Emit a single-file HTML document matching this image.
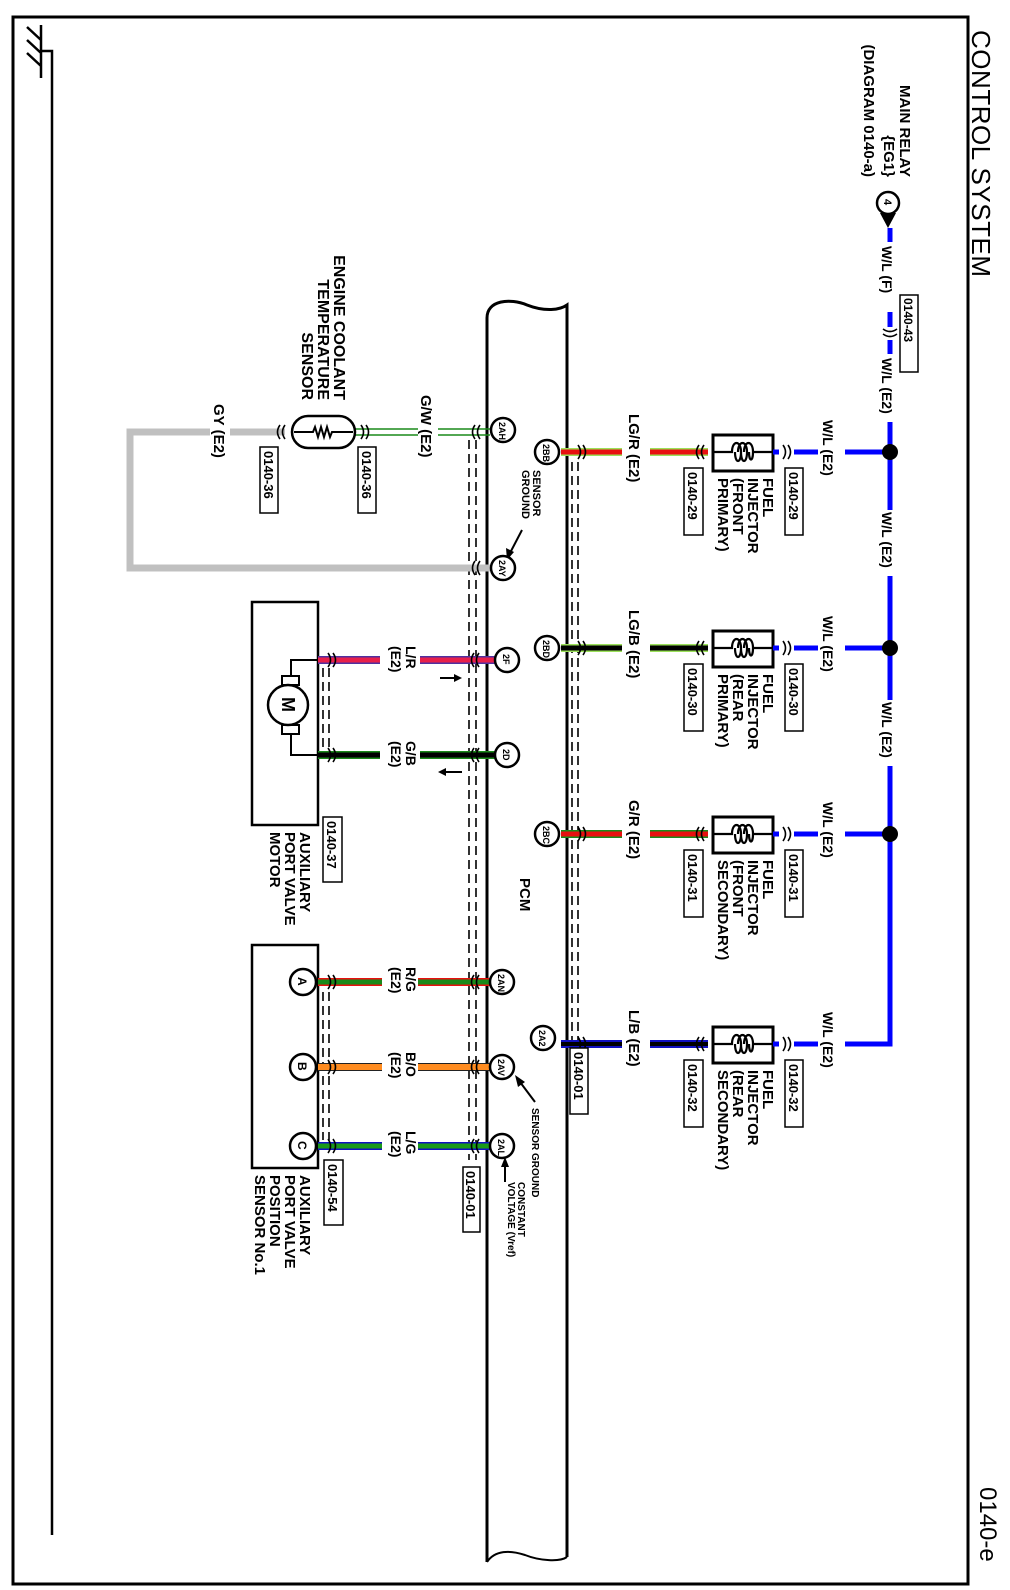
<!DOCTYPE html>
<html><head><meta charset="utf-8"><style>
html,body{margin:0;padding:0;background:#fff}
svg{display:block}
text{font-family:"Liberation Sans",sans-serif;font-weight:bold;fill:#000}
</style></head><body>
<svg width="1010" height="1590" viewBox="0 0 1010 1590" xmlns="http://www.w3.org/2000/svg">
<defs>
<path id="cr" d="M-4,-7 q5,7 0,14 M1,-7 q5,7 0,14" stroke="#000" stroke-width="1.6" fill="none"/>
<path id="cl" d="M4,-7 q-5,7 0,14 M-1,-7 q-5,7 0,14" stroke="#000" stroke-width="1.6" fill="none"/>
</defs>
<!-- frame -->
<path d="M13,17 H968 V1584 H13 Z" fill="none" stroke="#000" stroke-width="3"/>
<text transform="translate(972,30) rotate(90)" font-size="26" style="font-weight:normal" textLength="247">CONTROL SYSTEM</text>
<text transform="translate(980,1487) rotate(90)" font-size="24" style="font-weight:normal">0140-e</text>
<!-- ground -->
<path d="M41,25 V78 M27,27 L41,40 M27,40 L41,53 M27,53 L41,66 M41,51 H52 V1535" fill="none" stroke="#000" stroke-width="2.5"/>

<!-- PCM -->
<path d="M487,1562 V318 C487,300 510,298 527,305 C545,312 560,310 567,305 V1557" fill="none" stroke="#000" stroke-width="3"/>
<path d="M487,1562 C495,1550 510,1550 525,1555 C540,1561 560,1562 567,1557" fill="none" stroke="#000" stroke-width="2"/>
<text transform="translate(520,878) rotate(90)" font-size="15">PCM</text>

<!-- shields -->
<g stroke="#000" stroke-width="1.6" stroke-dasharray="9,5" fill="none">
<path d="M469,440 V1160 M476,440 V1160"/>
<path d="M572,462 V1048 M578,462 V1048"/>
<path d="M323,668 V748 M329,668 V748"/>
<path d="M323,992 V1140 M329,992 V1140"/>
</g>

<!-- main relay & bus -->
<circle cx="888" cy="203" r="11" fill="#fff" stroke="#000" stroke-width="2.5"/>
<text transform="translate(884,199) rotate(90)" font-size="11">4</text>
<path d="M880,213 L896,213 L888,228 Z" fill="#000"/>
<text transform="translate(900,177) rotate(90)" font-size="15" text-anchor="end">MAIN RELAY</text>
<text transform="translate(884,177) rotate(90)" font-size="15" text-anchor="end">{EG1}</text>
<text transform="translate(864,177) rotate(90)" font-size="15" text-anchor="end">(DIAGRAM 0140-a)</text>
<g stroke="#0000ff" stroke-width="5" fill="none">
<path d="M890,228 V242"/>
<path d="M890,312 V327"/>
<path d="M890,340 V354"/>
<path d="M890,422 V510"/>
<path d="M890,576 V700"/>
<path d="M890,766 V1044 H860"/>
</g>
<text transform="translate(882,246) rotate(90)" font-size="14">W/L (F)</text>
<use href="#cr" transform="translate(890,333) rotate(90)"/>
<rect x="900" y="295" width="18" height="77" fill="#fff" stroke="#000" stroke-width="1.5"/>
<text transform="translate(904,298) rotate(90)" font-size="12">0140-43</text>
<text transform="translate(882,358) rotate(90)" font-size="14">W/L (E2)</text>
<text transform="translate(882,512) rotate(90)" font-size="14">W/L (E2)</text>
<text transform="translate(882,702) rotate(90)" font-size="14">W/L (E2)</text>

<!-- row wires -->
<g>
<line x1="561" y1="452" x2="622" y2="452" stroke="#9be15a" stroke-width="8"/><line x1="561" y1="452" x2="622" y2="452" stroke="#e81010" stroke-width="5"/>
<line x1="650" y1="452" x2="708" y2="452" stroke="#9be15a" stroke-width="8"/><line x1="650" y1="452" x2="708" y2="452" stroke="#e81010" stroke-width="5"/>
<text transform="translate(629,414) rotate(90)" font-size="15">LG/R (E2)</text>
</g>
<g>
<line x1="561" y1="648" x2="622" y2="648" stroke="#9be15a" stroke-width="8"/><line x1="561" y1="648" x2="622" y2="648" stroke="#000" stroke-width="5"/>
<line x1="650" y1="648" x2="708" y2="648" stroke="#9be15a" stroke-width="8"/><line x1="650" y1="648" x2="708" y2="648" stroke="#000" stroke-width="5"/>
<text transform="translate(629,610) rotate(90)" font-size="15">LG/B (E2)</text>
</g>
<g>
<line x1="561" y1="834" x2="622" y2="834" stroke="#1a8a1a" stroke-width="8"/><line x1="561" y1="834" x2="622" y2="834" stroke="#e81010" stroke-width="5"/>
<line x1="650" y1="834" x2="708" y2="834" stroke="#1a8a1a" stroke-width="8"/><line x1="650" y1="834" x2="708" y2="834" stroke="#e81010" stroke-width="5"/>
<text transform="translate(629,800) rotate(90)" font-size="15">G/R (E2)</text>
</g>
<g>
<line x1="561" y1="1044" x2="622" y2="1044" stroke="#1010c0" stroke-width="8"/><line x1="561" y1="1044" x2="622" y2="1044" stroke="#000" stroke-width="4"/>
<line x1="650" y1="1044" x2="708" y2="1044" stroke="#1010c0" stroke-width="8"/><line x1="650" y1="1044" x2="708" y2="1044" stroke="#000" stroke-width="4"/>
<text transform="translate(629,1010) rotate(90)" font-size="15">L/B (E2)</text>
</g>

<!-- injector boxes -->
<g fill="none" stroke="#000" stroke-width="3">
<rect x="713" y="435" width="60" height="36"/>
<rect x="713" y="631" width="60" height="36"/>
<rect x="713" y="817" width="60" height="36"/>
<rect x="713" y="1027" width="60" height="36"/>
</g>
<g fill="none" stroke="#000" stroke-width="2.2">
<path d="M713,452 H732 c0,-12 9,-12 9,0 c0,12 -6,12 -6,0 M738,452 c0,-12 9,-12 9,0 c0,12 -6,12 -6,0 M744,452 c0,-12 9,-12 9,0 c0,10 -4,10 -4,0 M753,452 H773"/>
<path d="M713,648 H732 c0,-12 9,-12 9,0 c0,12 -6,12 -6,0 M738,648 c0,-12 9,-12 9,0 c0,12 -6,12 -6,0 M744,648 c0,-12 9,-12 9,0 c0,10 -4,10 -4,0 M753,648 H773"/>
<path d="M713,834 H732 c0,-12 9,-12 9,0 c0,12 -6,12 -6,0 M738,834 c0,-12 9,-12 9,0 c0,12 -6,12 -6,0 M744,834 c0,-12 9,-12 9,0 c0,10 -4,10 -4,0 M753,834 H773"/>
<path d="M713,1044 H732 c0,-12 9,-12 9,0 c0,12 -6,12 -6,0 M738,1044 c0,-12 9,-12 9,0 c0,12 -6,12 -6,0 M744,1044 c0,-12 9,-12 9,0 c0,10 -4,10 -4,0 M753,1044 H773"/>
</g>
<g stroke="#0000ff" stroke-width="5">
<path d="M773,452 H779 M794,452 H818 M845,452 H890"/>
<path d="M773,648 H779 M794,648 H818 M845,648 H890"/>
<path d="M773,834 H779 M794,834 H818 M845,834 H890"/>
<path d="M773,1044 H779 M794,1044 H818 M845,1044 H862"/>
</g>
<g fill="#000">
<circle cx="890" cy="452" r="8"/><circle cx="890" cy="648" r="8"/><circle cx="890" cy="834" r="8"/>
</g>
<g font-size="14">
<text transform="translate(823,420) rotate(90)">W/L (E2)</text>
<text transform="translate(823,616) rotate(90)">W/L (E2)</text>
<text transform="translate(823,802) rotate(90)">W/L (E2)</text>
<text transform="translate(823,1012) rotate(90)">W/L (E2)</text>
</g>
<use href="#cr" x="787" y="452"/><use href="#cr" x="787" y="648"/><use href="#cr" x="787" y="834"/><use href="#cr" x="787" y="1044"/>
<use href="#cl" x="700" y="452"/><use href="#cl" x="700" y="648"/><use href="#cl" x="700" y="834"/><use href="#cl" x="700" y="1044"/>
<use href="#cr" x="582" y="452"/><use href="#cr" x="582" y="648"/><use href="#cr" x="582" y="834"/><use href="#cr" x="582" y="1044"/>
<g fill="#fff" stroke="#000" stroke-width="1.5">
<rect x="785" y="468" width="18" height="67"/><rect x="684" y="468" width="19" height="67"/>
<rect x="785" y="664" width="18" height="67"/><rect x="684" y="664" width="19" height="67"/>
<rect x="785" y="850" width="18" height="67"/><rect x="684" y="850" width="19" height="67"/>
<rect x="785" y="1060" width="18" height="67"/><rect x="684" y="1060" width="19" height="67"/>
<rect x="570" y="1048" width="18" height="66"/>
</g>
<g font-size="13">
<text transform="translate(789,472) rotate(90)">0140-29</text><text transform="translate(688,472) rotate(90)">0140-29</text>
<text transform="translate(789,668) rotate(90)">0140-30</text><text transform="translate(688,668) rotate(90)">0140-30</text>
<text transform="translate(789,854) rotate(90)">0140-31</text><text transform="translate(688,854) rotate(90)">0140-31</text>
<text transform="translate(789,1064) rotate(90)">0140-32</text><text transform="translate(688,1064) rotate(90)">0140-32</text>
<text transform="translate(574,1052) rotate(90)">0140-01</text>
</g>
<g font-size="15">
<text transform="translate(763,478) rotate(90)">FUEL<tspan x="0" dy="15">INJECTOR</tspan><tspan x="0" dy="15">(FRONT</tspan><tspan x="0" dy="15">PRIMARY)</tspan></text>
<text transform="translate(763,674) rotate(90)">FUEL<tspan x="0" dy="15">INJECTOR</tspan><tspan x="0" dy="15">(REAR</tspan><tspan x="0" dy="15">PRIMARY)</tspan></text>
<text transform="translate(763,860) rotate(90)">FUEL<tspan x="0" dy="15">INJECTOR</tspan><tspan x="0" dy="15">(FRONT</tspan><tspan x="0" dy="15">SECONDARY)</tspan></text>
<text transform="translate(763,1070) rotate(90)">FUEL<tspan x="0" dy="15">INJECTOR</tspan><tspan x="0" dy="15">(REAR</tspan><tspan x="0" dy="15">SECONDARY)</tspan></text>
</g>

<!-- coolant sensor -->
<path d="M285,432 H230 M210,432 H130 V568 H490" fill="none" stroke="#c0c0c0" stroke-width="7"/>
<text transform="translate(214,404) rotate(90)" font-size="15">GY (E2)</text>
<path d="M355,429 H418 M438,429 H490 M355,435 H418 M438,435 H490" stroke="#1a8a1a" stroke-width="1.6"/>
<text transform="translate(421,395) rotate(90)" font-size="15">G/W (E2)</text>
<rect x="292" y="416" width="63" height="32" rx="16" fill="#fff" stroke="#000" stroke-width="2.5"/>
<path d="M294,432 H313 l2,-5 l3,10 l3,-10 l3,10 l3,-10 l3,10 l2,-5 H353" fill="none" stroke="#000" stroke-width="2"/>
<use href="#cl" x="281" y="432"/><use href="#cr" x="365" y="432"/><use href="#cl" x="476" y="432"/><use href="#cl" x="476" y="568"/>
<rect x="260" y="447" width="18" height="66" fill="#fff" stroke="#000" stroke-width="1.5"/>
<rect x="358" y="447" width="18" height="66" fill="#fff" stroke="#000" stroke-width="1.5"/>
<text transform="translate(264,451) rotate(90)" font-size="13">0140-36</text>
<text transform="translate(362,451) rotate(90)" font-size="13">0140-36</text>
<g font-size="16" text-anchor="end">
<text transform="translate(334,400) rotate(90)">ENGINE COOLANT</text>
<text transform="translate(318,400) rotate(90)">TEMPERATURE</text>
<text transform="translate(302,400) rotate(90)">SENSOR</text>
</g>

<!-- motor -->
<rect x="252" y="602" width="66" height="223" fill="none" stroke="#000" stroke-width="2.5"/>
<path d="M291,680 V660 H318 M291,732 V755 H318" fill="none" stroke="#000" stroke-width="2"/>
<rect x="282" y="676" width="17" height="9" fill="#fff" stroke="#000" stroke-width="2"/>
<rect x="282" y="725" width="17" height="9" fill="#fff" stroke="#000" stroke-width="2"/>
<circle cx="288" cy="705" r="20" fill="#fff" stroke="#000" stroke-width="2.5"/>
<text transform="translate(282,697) rotate(90)" font-size="18">M</text>
<g>
<path d="M318,660 H380 M420,660 H500" stroke="#5030a0" stroke-width="8"/><path d="M318,660 H380 M420,660 H500" stroke="#e8204a" stroke-width="5"/>
<path d="M318,755 H380 M420,755 H500" stroke="#1a8a1a" stroke-width="8"/><path d="M318,755 H380 M420,755 H500" stroke="#000" stroke-width="5"/>
</g>
<use href="#cr" x="332" y="660"/><use href="#cr" x="332" y="755"/><use href="#cl" x="475" y="660"/><use href="#cl" x="475" y="755"/>
<g font-size="14">
<text transform="translate(406,646) rotate(90)">L/R<tspan x="0" dy="15">(E2)</tspan></text>
<text transform="translate(406,741) rotate(90)">G/B<tspan x="0" dy="15">(E2)</tspan></text>
</g>
<path d="M440,678 H456" stroke="#000" stroke-width="2"/><path d="M462,678 L454,674 V682 Z"/>
<path d="M446,772 H462" stroke="#000" stroke-width="2"/><path d="M438,772 L446,768 V776 Z"/>
<rect x="323" y="817" width="19" height="65" fill="#fff" stroke="#000" stroke-width="1.5"/>
<text transform="translate(327,821) rotate(90)" font-size="13">0140-37</text>
<text transform="translate(300,832) rotate(90)" font-size="15">AUXILIARY<tspan x="0" dy="15">PORT VALVE</tspan><tspan x="0" dy="15">MOTOR</tspan></text>

<!-- position sensor -->
<rect x="252" y="945" width="66" height="223" fill="none" stroke="#000" stroke-width="2.5"/>
<g>
<path d="M318,982 H382 M418,982 H500" stroke="#e81010" stroke-width="8"/><path d="M318,982 H382 M418,982 H500" stroke="#1a8a1a" stroke-width="5"/>
<path d="M318,1067 H382 M418,1067 H500" stroke="#222" stroke-width="8"/><path d="M318,1067 H382 M418,1067 H500" stroke="#ff8c20" stroke-width="6"/>
<path d="M318,1146 H382 M418,1146 H500" stroke="#1010c0" stroke-width="8"/><path d="M318,1146 H382 M418,1146 H500" stroke="#1a9a1a" stroke-width="5"/>
</g>
<use href="#cr" x="332" y="982"/><use href="#cr" x="332" y="1067"/><use href="#cr" x="332" y="1146"/>
<use href="#cl" x="475" y="982"/><use href="#cl" x="475" y="1067"/><use href="#cl" x="475" y="1146"/>
<g font-size="14">
<text transform="translate(406,967) rotate(90)">R/G<tspan x="0" dy="15">(E2)</tspan></text>
<text transform="translate(406,1052) rotate(90)">B/O<tspan x="0" dy="15">(E2)</tspan></text>
<text transform="translate(406,1131) rotate(90)">L/G<tspan x="0" dy="15">(E2)</tspan></text>
</g>
<rect x="324" y="1160" width="19" height="65" fill="#fff" stroke="#000" stroke-width="1.5"/>
<text transform="translate(328,1164) rotate(90)" font-size="13">0140-54</text>
<rect x="463" y="1167" width="17" height="65" fill="#fff" stroke="#000" stroke-width="1.5"/>
<text transform="translate(466,1171) rotate(90)" font-size="13">0140-01</text>
<text transform="translate(300,1175) rotate(90)" font-size="15">AUXILIARY<tspan x="0" dy="15">PORT VALVE</tspan><tspan x="0" dy="15">POSITION</tspan><tspan x="0" dy="15">SENSOR No.1</tspan></text>
<path d="M535,1102 L520,1082" stroke="#000" stroke-width="2"/><path d="M515,1075 L518,1087 L525,1082 Z"/>
<text transform="translate(532,1108) rotate(90)" font-size="10">SENSOR GROUND</text>
<path d="M505,1182 V1165" stroke="#000" stroke-width="2"/><path d="M505,1157 L501,1167 H509 Z"/>
<text transform="translate(518,1182) rotate(90)" font-size="10">CONSTANT<tspan x="0" dy="10">VOLTAGE (Vref)</tspan></text>
<text transform="translate(533,470) rotate(90)" font-size="11">SENSOR<tspan x="0" dy="11">GROUND</tspan></text>
<path d="M522,530 L510,553" stroke="#000" stroke-width="2"/><path d="M507,560 L506,548 L514,552 Z"/>

<!-- component circles -->
<g fill="#fff" stroke="#000" stroke-width="2.5">
<circle cx="503" cy="430" r="12"/><circle cx="503" cy="568" r="12"/>
<circle cx="507" cy="660" r="12"/><circle cx="507" cy="755" r="12"/>
<circle cx="502" cy="982" r="12"/><circle cx="502" cy="1067" r="12"/><circle cx="502" cy="1146" r="12"/>
<circle cx="547" cy="452" r="12"/><circle cx="547" cy="648" r="12"/><circle cx="547" cy="834" r="12"/><circle cx="543" cy="1038" r="12"/>
<circle cx="303" cy="982" r="13"/><circle cx="303" cy="1067" r="13"/><circle cx="303" cy="1146" r="13"/>
</g>
<g font-size="9">
<text transform="translate(499,422) rotate(90)">2AH</text>
<text transform="translate(499,560) rotate(90)">2AY</text>
<text transform="translate(503,654) rotate(90)">2F</text>
<text transform="translate(503,749) rotate(90)">2D</text>
<text transform="translate(498,974) rotate(90)">2AN</text>
<text transform="translate(498,1059) rotate(90)">2AV</text>
<text transform="translate(498,1139) rotate(90)">2AL</text>
<text transform="translate(543,444) rotate(90)">2BB</text>
<text transform="translate(543,640) rotate(90)">2BD</text>
<text transform="translate(543,826) rotate(90)">2BC</text>
<text transform="translate(539,1030) rotate(90)">2A2</text>
</g>
<g font-size="12">
<text transform="translate(298,977) rotate(90)">A</text>
<text transform="translate(298,1062) rotate(90)">B</text>
<text transform="translate(298,1141) rotate(90)">C</text>
</g>
</svg>
</body></html>
